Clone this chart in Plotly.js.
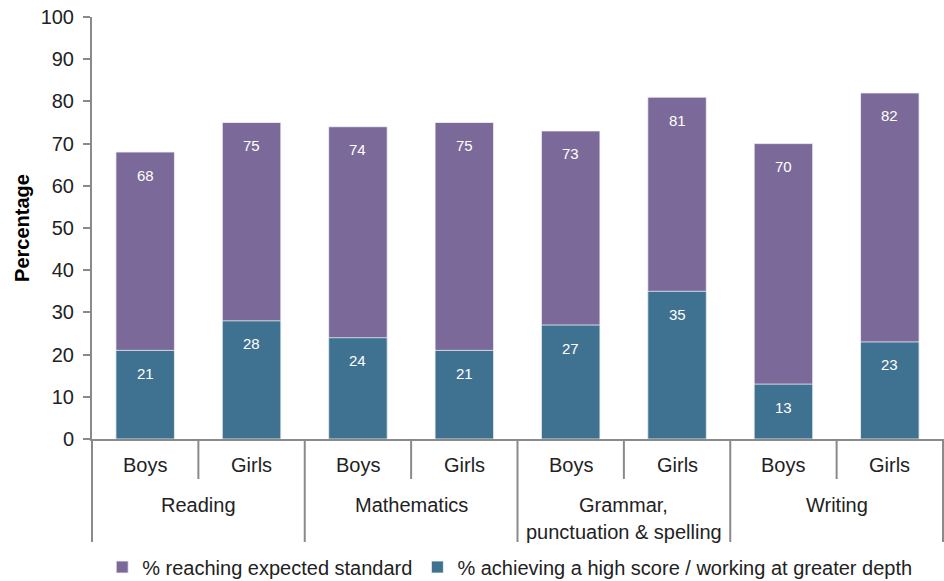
<!DOCTYPE html>
<html>
<head>
<meta charset="utf-8">
<script src="https://cdn.plot.ly/plotly-3.0.1.min.js"></script>
<style>html,body{margin:0;padding:0;background:#fff}#chart{width:944px;height:581px}</style>
</head>
<body>
<div id="chart"></div>
<script>
const subjects = ["Reading", "Reading", "Mathematics", "Mathematics", "Grammar,<br>punctuation & spelling", "Grammar,<br>punctuation & spelling", "Writing", "Writing"];
const genders = ["Boys", "Girls", "Boys", "Girls", "Boys", "Girls", "Boys", "Girls"];
const expectedStandard = [68, 75, 74, 75, 73, 81, 70, 82];
const highScore = [21, 28, 24, 21, 27, 35, 13, 23];
const seriesNames = ["% reaching expected standard", "% achieving a high score / working at greater depth"];

const purple = "#7B6A99";
const teal = "#3F7290";
const axisGrey = "#8A8A8A";
const textCol = "#222222";
const font = "Liberation Sans, Arial, sans-serif";

const W = 944, H = 581;
const M = {l: 92, r: 1, t: 17, b: 142};
const plotH = H - M.t - M.b;
const n = genders.length;
const xpos = genders.map(function(_, i) { return i; });

const traces = [
  {type: "bar", x: xpos, y: expectedStandard, name: seriesNames[0],
   marker: {color: purple, line: {color: "#f4f2f7", width: 0.8}}, width: 0.55, hoverinfo: "y"},
  {type: "bar", x: xpos, y: highScore, name: seriesNames[1],
   marker: {color: teal, line: {color: "#f2f5f7", width: 0.8}}, width: 0.55, hoverinfo: "y"}
];

const annotations = [];
// value labels inside bars
[expectedStandard, highScore].forEach(function(arr) {
  arr.forEach(function(v, i) {
    annotations.push({x: i, y: v, xref: "x", yref: "y", text: String(v), showarrow: false,
      yanchor: "middle", yshift: -23, font: {family: font, size: 15, color: "#ffffff"}});
  });
});
// first level labels (gender)
genders.forEach(function(g, i) {
  annotations.push({x: i, y: 0, xref: "x", yref: "paper", text: g, showarrow: false,
    yanchor: "middle", yshift: -26, font: {family: font, size: 20, color: textCol}});
});
// second level labels (subject groups)
const groups = [];
subjects.forEach(function(s, i) {
  if (i === 0 || subjects[i - 1] !== s) groups.push({name: s, start: i, end: i});
  else groups[groups.length - 1].end = i;
});
groups.forEach(function(g) {
  g.name.split("<br>").forEach(function(line, k) {
    annotations.push({x: (g.start + g.end) / 2, y: 0, xref: "x", yref: "paper", text: line,
      showarrow: false, yanchor: "middle", yshift: -66 - 27 * k,
      font: {family: font, size: 20, color: textCol}});
  });
});

// boundary lines under the x axis
const shapes = [];
for (let b = 0; b <= n; b++) {
  const isGroup = (b === 0 || b === n || subjects[b - 1] !== subjects[b]);
  const depth = isGroup ? 103 : 40;
  shapes.push({type: "line", xref: "paper", yref: "paper",
    x0: b / n, x1: b / n, y0: 0, y1: -depth / plotH,
    line: {color: axisGrey, width: 2}});
}

const layout = {
  width: W, height: H,
  margin: M,
  paper_bgcolor: "#ffffff", plot_bgcolor: "#ffffff",
  barmode: "overlay",
  font: {family: font, size: 20, color: textCol},
  showlegend: true,
  legend: {orientation: "h", xref: "paper", x: 0.012, xanchor: "left",
    yref: "container", y: (H - 567) / H, yanchor: "middle",
    font: {family: font, size: 20, color: textCol}, itemwidth: 30, traceorder: "normal",
    bgcolor: "rgba(0,0,0,0)"},
  xaxis: {
    range: [-0.5, n - 0.5], showticklabels: false, ticks: "",
    showline: true, linecolor: axisGrey, linewidth: 2,
    showgrid: false, zeroline: false, fixedrange: true
  },
  yaxis: {
    range: [0, 100], dtick: 10, tick0: 0,
    showline: true, linecolor: axisGrey, linewidth: 2,
    ticks: "outside", ticklen: 7, tickcolor: axisGrey, tickwidth: 2,
    ticklabelstandoff: 5,
    showgrid: false, zeroline: false,
    tickfont: {family: font, size: 20, color: textCol},
    title: {text: "<b>Percentage</b>", font: {family: font, size: 20, color: "#000000"}, standoff: 6}
  },
  annotations: annotations,
  shapes: shapes
};

Plotly.newPlot("chart", traces, layout, {displayModeBar: false, staticPlot: true});
</script>
</body>
</html>
